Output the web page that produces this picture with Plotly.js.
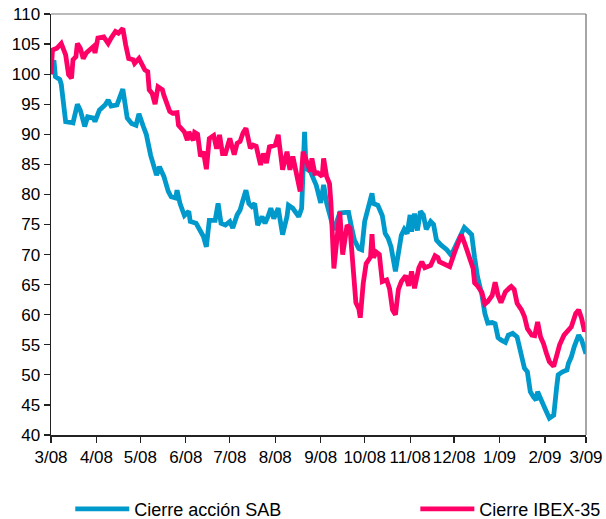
<!DOCTYPE html>
<html>
<head>
<meta charset="utf-8">
<script src="https://cdn.plot.ly/plotly-3.0.1.min.js"></script>
<style>html,body{margin:0;padding:0;background:#fff;}#chart{width:606px;height:519px;}</style>
</head>
<body>
<div id="chart"></div>
<script>
// Day number counted from 1 March 2008
const tickDays = [0,31,61,92,122,153,184,214,245,275,306,337,365];
const tickLabels = ["3/08","4/08","5/08","6/08","7/08","8/08","9/08","10/08","11/08","12/08","1/09","2/09","3/09"];

const sabDays = [0,2,3,6,7,9,10,13,15,18,20,23,25,29,30,33,37,39,41,45,47,49,52,55,58,60,63,65,68,70,72,74,77,80,82,85,86,88,91,94,95,99,102,104,106,108,112,114,116,119,122,124,127,129,131,133,135,137,139,141,144,146,148,150,152,155,158,161,162,165,169,171,173,174,177,179,181,184,186,188,190,193,195,197,201,203,205,207,210,212,214,216,219,220,223,226,228,230,232,235,237,239,241,243,245,246,248,250,252,254,256,259,261,263,266,270,273,277,280,282,285,287,289,291,294,296,298,301,303,305,307,310,312,315,318,321,323,325,327,329,331,332,335,337,340,343,345,346,349,352,353,355,357,360,362,364,365];
const sabValues = [100,102.3,99.6,99.1,98.3,95,92.1,92,91.9,95.0,94.0,91.3,92.9,92.7,92.1,94.0,94.9,95.7,94.7,94.9,96.2,97.5,92.7,91.8,91.5,93.4,91.3,90,86.5,84.9,83.2,84.6,83.0,80.5,79.6,79.4,80.7,78.5,76.5,77.2,75.5,75.2,73.8,73.0,71.3,75.7,75.7,78.5,75.2,74.9,75.5,74.4,76.6,77.4,79.1,80.7,78.5,78.0,78.5,74.9,76.3,75.2,76.3,77.7,76.0,77.7,73.3,76.3,78.2,77.7,76.3,77.7,90.4,84.3,83.8,82.7,81.5,78.6,81.6,78.6,76.9,74.1,75.5,76.9,77,77,74.6,72.4,71.0,70.8,75.5,77.4,80.2,78.5,78.2,76.5,73.5,72.7,71.3,67.2,70.5,73.2,74.2,73.5,76.6,73.8,76.8,74,77.2,76.6,74.2,75.5,75,72.4,71.6,70.8,69.9,72,73.5,74.5,73.8,73.3,69.5,66.3,63.3,60.2,58.6,58.7,58.5,56.2,55.8,55.4,56.6,56.9,56.3,53.3,51.1,50.5,47.2,46.4,45.8,47.2,45.3,44.4,42.8,43.3,48.0,50.0,50.5,50.8,51.9,53.0,54.7,56.6,55.8,54.1,53.5];

const ibexDays = [0,1,4,7,10,12,14,15,17,18,20,22,24,27,29,30,32,36,39,41,44,46,49,51,53,56,57,60,62,64,66,67,69,71,73,76,77,79,81,83,86,87,89,91,93,94,97,98,100,102,104,106,108,111,113,115,117,119,122,124,125,127,129,131,133,136,138,140,143,145,147,149,153,155,157,158,161,163,165,168,170,172,174,177,178,180,182,185,186,188,190,191,193,195,197,199,202,204,206,208,210,211,213,215,218,219,220,222,224,226,229,231,233,235,237,239,242,244,246,248,251,253,255,259,262,264,265,269,272,276,278,280,282,284,286,288,289,291,294,296,298,301,303,305,307,310,313,314,316,318,321,323,325,328,330,332,334,336,338,340,343,345,347,350,353,355,358,360,362,364,365];
const ibexValues = [100,104.0,104.3,105.1,103.2,99.9,99.3,102.4,102.9,105.1,104.3,102.6,103.5,104.3,104.6,103.5,106.0,106.2,105.1,106.0,107.1,106.8,107.6,104.8,102.6,102.4,101.8,102.6,101.5,100.7,100.4,97.4,96.8,95.0,97.9,97.4,96.5,94.9,93.8,93.5,93.6,91.5,91.0,90.4,89.0,90.4,89.0,90.3,90,86.3,87.1,84.2,89.3,89.8,87.6,89.9,86.8,86.8,89.3,87.4,86.6,88.5,88.8,90.2,91.0,87.7,88.2,88.0,84.9,86.8,85.2,87.9,88.2,89.9,86.8,84.1,87.1,84.1,86.3,83.0,80.5,87.1,85.7,83.8,86.0,83.5,83.6,83.0,86.0,83.0,81.8,78.5,67.7,73.0,77.1,70.0,74.9,74.4,67.8,62,61,59.5,65.2,68.5,69.6,73.4,69.5,70.4,70,65.5,65.8,64.3,60.8,60.0,64.2,65.5,66.5,64.8,67.2,64.4,67.8,68.8,67.8,68.2,69.8,69.5,68.8,68.3,68.0,70.8,72.1,73.3,72,70.6,69.2,67.7,65.3,64.8,63.7,61.8,62.2,63.2,65.4,63.2,62,63.8,64.5,64.7,64.2,61.9,60.8,59.7,57.7,56.6,56.5,58.8,56.3,55.2,53.6,52.2,51.4,53.3,55.0,56.6,57.5,58.0,60.2,60.8,59.4,57.2,58];

const seriesNames = ["Cierre acción SAB", "Cierre IBEX-35"];

const fam = "Liberation Sans, Arial, sans-serif";
const legendBase = {orientation: "h", y: -0.176, yanchor: "middle", xanchor: "left",
  font: {family: fam, size: 18, color: "#000"}, itemwidth: 54, bgcolor: "rgba(0,0,0,0)"};

const traces = [
  {x: sabDays, y: sabValues, name: seriesNames[0], type: "scatter", mode: "lines",
   line: {color: "#0099CC", width: 4.8}, legend: "legend"},
  {x: ibexDays, y: ibexValues, name: seriesNames[1], type: "scatter", mode: "lines",
   line: {color: "#FF0066", width: 4.8}, legend: "legend2"}
];

const layout = {
  width: 606, height: 519,
  margin: {l: 51, r: 20, t: 14, b: 84, autoexpand: false},
  paper_bgcolor: "#fff", plot_bgcolor: "#fff",
  font: {family: fam, size: 17, color: "#000"},
  showlegend: true,
  legend: Object.assign({}, legendBase, {x: 0.036}),
  legend2: Object.assign({}, legendBase, {x: 0.681}),
  xaxis: {range: [0, 365], tickmode: "array", tickvals: tickDays, ticktext: tickLabels,
          showgrid: false, zeroline: false, showline: true, linecolor: "#222", linewidth: 1.5,
          ticks: "outside", ticklen: 6, tickcolor: "#222", tickwidth: 1.2,
          tickfont: {family: fam, size: 17, color: "#000"}, fixedrange: true},
  yaxis: {range: [40, 110], dtick: 5, tick0: 40,
          showgrid: false, zeroline: false, showline: true, linecolor: "#222", linewidth: 1.5,
          ticks: "outside", ticklen: 6, tickcolor: "#222", tickwidth: 1.2,
          tickfont: {family: fam, size: 17, color: "#000"}, fixedrange: true},
  shapes: [
    {type: "line", xref: "paper", yref: "paper", x0: 0, x1: 1, y0: 1, y1: 1,
     line: {color: "#BBBBBB", width: 2}},
    {type: "line", xref: "paper", yref: "paper", x0: 1, x1: 1, y0: 0, y1: 1,
     line: {color: "#888888", width: 1.5}}
  ]
};

Plotly.newPlot("chart", traces, layout, {displayModeBar: false, staticPlot: true});
</script>
</body>
</html>
